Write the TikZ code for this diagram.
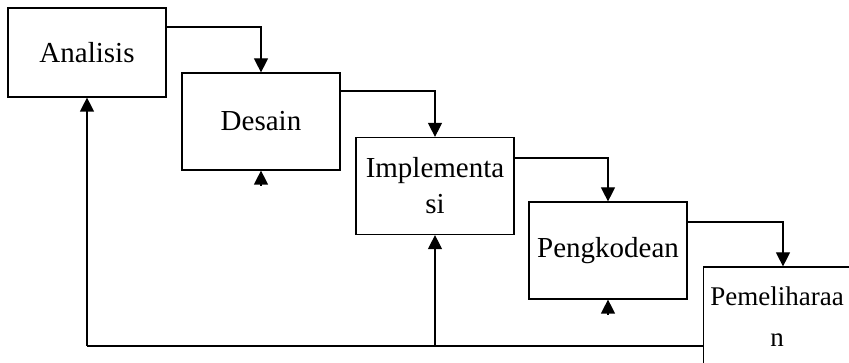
\documentclass[tikz,border=0pt]{standalone}
\usepackage{fontspec}
\setmainfont{Liberation Serif}
\usetikzlibrary{arrows.meta,calc}
\begin{document}
\begin{tikzpicture}[x=1pt,y=-1pt,
  stage/.style={draw, line width=1.2pt, rectangle, minimum width=158pt, minimum height=97pt,
    align=center, inner sep=0pt, font=\fontsize{29}{36}\selectfont},
  arr/.style={draw, line width=1.2pt, -{Triangle[length=14pt,width=14pt]}}]
\useasboundingbox (0,0) rectangle (849,363);
\clip (0,0) rectangle (849,363);
\node[stage, minimum height=89pt] (A) at (87,52.5) {Analisis};
\node[stage] (D) at (261,121.5) {Desain};
\node[stage] (I) at (435,186) {Implementa\\si};
\node[stage] (P) at (608,250.5) {Pengkodean};
\node[stage, minimum width=147pt, minimum height=99pt, font=\fontsize{27}{41}\selectfont] (M) at (777,316.5) {Pemeliharaa\\n};
\draw[arr] (A.east |- 0,27) -| (D.north);
\draw[arr] (D.east |- 0,91) -| (I.north);
\draw[arr] (I.east |- 0,158) -| (P.north);
\draw[arr] (P.east |- 0,222) -| ([xshift=6pt]M.north);
\coordinate (fb) at (A.south |- 0,346);
\coordinate (fi) at (I.south |- 0,346);
\draw[line width=1.2pt] (M.west |- 0,346) -- (fb);
\draw[arr] (fb) -- (A.south);
\draw[arr] (fi) -- (I.south);
\draw[arr] ($(D.south)+(0,15)$) -- (D.south);
\draw[arr] ($(P.south)+(0,15)$) -- (P.south);
\end{tikzpicture}
\end{document}
